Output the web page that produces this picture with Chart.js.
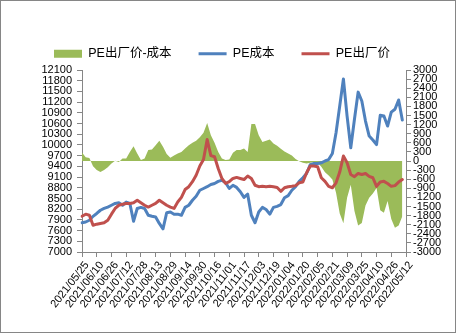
<!DOCTYPE html>
<html>
<head>
<meta charset="utf-8">
<script src="https://cdn.jsdelivr.net/npm/chart.js@4.4.1/dist/chart.umd.min.js"></script>
<style>
  html, body { margin: 0; padding: 0; background: #fff; }
  #wrap { width: 456px; height: 333px; box-sizing: border-box; border: 1px solid #868686; position: relative; }
</style>
</head>
<body>
<div id="wrap"><canvas id="peChart"></canvas></div>
<script>
// dates every 4 days, 2021/05/25 .. 2022/05/12
const dates = [
  '2021/05/25','2021/05/29','2021/06/02','2021/06/06','2021/06/10','2021/06/14','2021/06/18','2021/06/22','2021/06/26','2021/06/30',
  '2021/07/04','2021/07/08','2021/07/12','2021/07/16','2021/07/20','2021/07/24','2021/07/28','2021/08/01','2021/08/05','2021/08/09',
  '2021/08/13','2021/08/17','2021/08/21','2021/08/25','2021/08/29','2021/09/02','2021/09/06','2021/09/10','2021/09/14','2021/09/18',
  '2021/09/22','2021/09/26','2021/09/30','2021/10/04','2021/10/08','2021/10/12','2021/10/16','2021/10/20','2021/10/24','2021/10/28',
  '2021/11/01','2021/11/05','2021/11/09','2021/11/13','2021/11/17','2021/11/21','2021/11/25','2021/11/29','2021/12/03','2021/12/07',
  '2021/12/11','2021/12/15','2021/12/19','2021/12/23','2021/12/27','2021/12/31','2022/01/04','2022/01/08','2022/01/12','2022/01/16',
  '2022/01/20','2022/01/24','2022/01/28','2022/02/01','2022/02/05','2022/02/09','2022/02/13','2022/02/17','2022/02/21','2022/02/25',
  '2022/03/01','2022/03/05','2022/03/09','2022/03/13','2022/03/17','2022/03/21','2022/03/25','2022/03/29','2022/04/02','2022/04/06',
  '2022/04/10','2022/04/14','2022/04/18','2022/04/22','2022/04/26','2022/04/30','2022/05/04','2022/05/08','2022/05/12'
];

// PE出厂价-成本 (right axis)
const spread = [
  280, 120, 100, -170, -300, -360, -300, -210, -80, 10,
  -30, 80, 80, 300, 490, 250, 30, 80, 360, 380,
  520, 670, 470, 230, 110, 180, 250, 300, 410, 520,
  600, 670, 780, 930, 1250, 850, 600, 300, 80, 30,
  50, 270, 360, 360, 410, 300, 1220, 1220, 850, 630,
  670, 710, 580, 500, 400, 310, 250, 180, 70, -10,
  -60, -80, -60, -30, -60, -190, -370, -480, -610, -1050,
  -1730, -2050, -1210, -780, -1650, -2130, -2040, -1470, -1210, -1070,
  -890, -1620, -1710, -1320, -1910, -2200, -2130, -1820
];

// PE成本 (left axis)
const cost = [
  7820, 7840, 7890, 8000, 8080, 8170, 8220, 8260, 8310, 8360,
  8380, 8310, 8400, 8360, 7860, 8220, 8250, 8220, 8030, 8000,
  7980, 7800, 7650, 8100, 8120, 8060, 8060, 8030, 8250, 8310,
  8450, 8560, 8730, 8780, 8830, 8890, 8920, 8980, 9010, 8940,
  8780, 8870, 8810, 8690, 8530, 8620, 8030, 7820, 8120, 8250,
  8190, 8060, 8250, 8280, 8330, 8520, 8580, 8730, 8830, 8980,
  9080, 9200, 9450, 9480, 9480, 9500, 9550, 9590, 9760, 10340,
  11090, 11850, 10810, 9920, 10720, 11480, 11230, 10670, 10250, 10140,
  10010, 10830, 10810, 10530, 10920, 11000, 11260, 10700
];

// PE出厂价 (left axis)
const price = [
  8000, 8060, 8030, 7750, 7780, 7800, 7820, 7890, 8060, 8220,
  8310, 8340, 8360, 8360, 8380, 8450, 8380, 8310, 8260, 8310,
  8360, 8450, 8380, 8310, 8260, 8220, 8400, 8530, 8750, 8830,
  8970, 9150, 9410, 9590, 10150, 9700, 9670, 9340, 9060, 8920,
  8970, 9060, 9090, 9060, 9030, 9130, 9060, 8870, 8830, 8840,
  8830, 8840, 8830, 8810, 8700, 8800, 8830, 8840, 8860, 8940,
  8960, 9220, 9410, 9410, 9390, 9080, 8980, 8840, 8800, 8940,
  9240, 9690, 9500, 9170, 9110, 9200, 9170, 9200, 9120, 9080,
  8840, 8960, 8980, 8920, 8840, 8860, 8960, 9030
];

const axisColor = '#868686';
const tickFont = { family: "'Liberation Sans', Arial, sans-serif", size: 11 };
const plainNum = function (value) { return String(value); };

document.addEventListener("DOMContentLoaded", function () {
  const ctx = document.getElementById('peChart').getContext('2d');
  new Chart(ctx, {
    type: 'line',
    data: {
      labels: dates,
      datasets: [
        {
          label: 'PE出厂价-成本',
          data: spread,
          yAxisID: 'y1',
          fill: 'origin',
          backgroundColor: '#9BBB59',
          borderColor: '#9BBB59',
          borderWidth: 0,
          pointRadius: 0,
          pointStyle: 'rect',
          tension: 0,
          order: 2
        },
        {
          label: 'PE成本',
          data: cost,
          yAxisID: 'y',
          borderColor: '#4F81BD',
          backgroundColor: '#4F81BD',
          borderWidth: 3,
          borderJoinStyle: 'round',
          borderCapStyle: 'round',
          pointRadius: 0,
          pointStyle: 'line',
          tension: 0,
          fill: false,
          order: 1
        },
        {
          label: 'PE出厂价',
          data: price,
          yAxisID: 'y',
          borderColor: '#C0504D',
          backgroundColor: '#C0504D',
          borderWidth: 3,
          borderJoinStyle: 'round',
          borderCapStyle: 'round',
          pointRadius: 0,
          pointStyle: 'line',
          tension: 0,
          fill: false,
          order: 0
        }
      ]
    },
    options: {
      responsive: true,
      maintainAspectRatio: false,
      animation: false,
      layout: { padding: { top: -12, left: 26, right: 0, bottom: 0 } },
      plugins: {
        tooltip: { enabled: false },
        legend: {
          display: true,
          position: 'top',
          align: 'start',
          labels: {
            usePointStyle: true,
            pointStyleWidth: 28,
            boxHeight: 8,
            padding: 27,
            color: '#000',
            font: { family: "'Liberation Sans', 'Noto Sans CJK SC', sans-serif", size: 12.5 },
            generateLabels: function (chart) {
              return chart.data.datasets.map(function (ds, i) {
                return {
                  text: ds.label,
                  fillStyle: ds.backgroundColor,
                  strokeStyle: ds.borderColor,
                  lineWidth: ds.pointStyle === 'line' ? 3 : 0,
                  pointStyle: ds.pointStyle,
                  fontColor: '#000',
                  hidden: false,
                  datasetIndex: i
                };
              });
            }
          }
        }
      },
      scales: {
        x: {
          type: 'category',
          offset: false,
          afterFit: function (scale) { scale.height = 80; },
          grid: { display: true, drawOnChartArea: false, drawTicks: true, tickLength: 5, color: axisColor },
          border: { display: true, color: axisColor, width: 1 },
          ticks: {
            autoSkip: false,
            minRotation: 52,
            maxRotation: 52,
            padding: 2,
            labelOffset: 5,
            color: '#000',
            font: tickFont,
            callback: function (value, index) {
              return index % 4 === 0 ? dates[index] : null;
            }
          }
        },
        y: {
          position: 'left',
          min: 7000,
          max: 12100,
          // fixed width, and keep the plot top clear of the legend
          afterFit: function (scale) { scale.width = 55; scale.paddingTop = 69; },
          grid: { display: true, drawOnChartArea: false, drawTicks: true, tickLength: 5, color: axisColor },
          border: { display: true, color: axisColor, width: 1 },
          ticks: { stepSize: 300, autoSkip: false, padding: 5, color: '#000', font: tickFont, callback: plainNum }
        },
        y1: {
          position: 'right',
          min: -3000,
          max: 3000,
          afterFit: function (scale) { scale.width = 49; },
          grid: { display: true, drawOnChartArea: false, drawTicks: true, tickLength: 5, color: axisColor },
          border: { display: true, color: axisColor, width: 1 },
          ticks: { stepSize: 300, autoSkip: false, padding: 2, color: '#000', font: tickFont, callback: plainNum }
        }
      }
    }
  });
});
</script>
</body>
</html>
